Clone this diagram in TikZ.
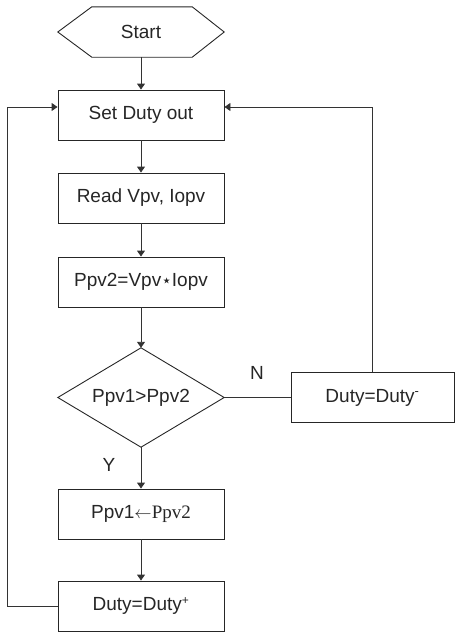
\documentclass[tikz,border=0pt]{standalone}
\usepackage{fontspec}
\setmainfont{Liberation Sans}
\newfontfamily\serifx{Liberation Serif}
\newfontfamily\dejavu{DejaVu Sans}
\usetikzlibrary{arrows.meta}
\begin{document}
\begin{tikzpicture}[x=1pt,y=-1pt,
  every node/.style={font=\fontsize{19}{21}\selectfont, text=black!85},
  boxst/.style={draw=black!85, line width=0.9pt, minimum width=166pt, minimum height=50pt, inner sep=0pt},
  plain/.style={minimum width=166pt, inner sep=0pt},
  conn/.style={draw=black!80, line width=0.9pt},
  arr/.style={conn, -{Triangle[width=8pt,length=6pt]}},
  lbl/.style={inner sep=0pt}
]
\useasboundingbox (0,0) rectangle (455,632);

\node[plain, minimum height=50pt] (start) at (141,32) {Start};
\draw[black!85, line width=0.9pt] (start.west) -- ([xshift=34pt]start.north west) -- ([xshift=-32pt]start.north east) -- (start.east) -- ([xshift=-32pt]start.south east) -- ([xshift=34pt]start.south west) -- cycle;

\node[boxst] (set) at (141,115) {Set Duty out};
\node[boxst] (read) at (141,198) {Read Vpv, Iopv};
\node[boxst] (ppvtwo) at (141,282) {Ppv2=Vpv{\dejavu\fontsize{17}{17}\selectfont ⋆}Iopv};
\node[plain, minimum height=99pt] (dec) at (141,397.5) {Ppv1>Ppv2};
\draw[black!85, line width=0.9pt] (dec.north) -- (dec.east) -- (dec.south) -- (dec.west) -- cycle;
\node[boxst, minimum width=163pt] (dminus) at (372.5,397.5) {Duty=Duty\textsuperscript{\fontsize{13}{13}\selectfont -}};
\node[boxst] (ppvone) at (141,514) {Ppv1{\serifx $\leftarrow$Ppv2}};
\node[boxst] (dplus) at (141,606) {Duty=Duty\textsuperscript{\fontsize{12}{12}\selectfont +}};

\coordinate (setR) at ([yshift=8pt]set.east);
\coordinate (setL) at ([yshift=8pt]set.west);

\draw[arr] (start.south) -- (set.north);
\draw[arr] (set.south) -- (read.north);
\draw[arr] (read.south) -- (ppvtwo.north);
\draw[arr] (ppvtwo.south) -- (dec.north);
\draw[arr] (dec.south) -- (ppvone.north);
\draw[arr] (ppvone.south) -- (dplus.north);
\draw[conn] (dec.east) -- (dminus.west);
\draw[arr] (dminus.north) |- (setR);
\draw[arr] (dplus.west) -- ++(-50pt,0) |- (setL);

\node[lbl] (nlab) at (257,373) {N};
\node[lbl] (ylab) at (109,465) {Y};
\end{tikzpicture}
\end{document}
